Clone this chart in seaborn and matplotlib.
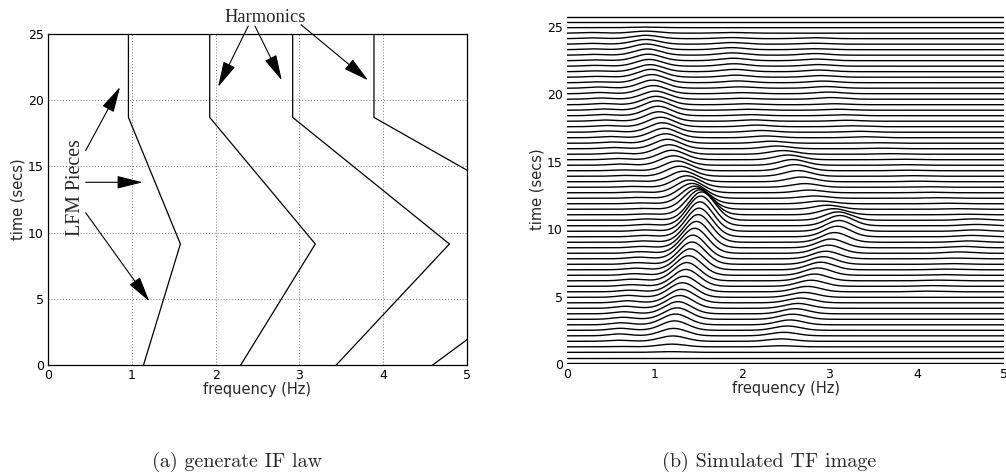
import numpy as np
import matplotlib
matplotlib.use("Agg")
import matplotlib.pyplot as plt
import seaborn as sns

sns.set_theme(style="white")
plt.rcParams['font.family'] = ['DejaVu Sans']

# ---- (a) IF law: breakpoints of each harmonic (time in s, freq in Hz)
if_times = [0, 9.14, 18.7, 25]
h1_freq = [1.14, 1.58, 0.96, 0.96]
h2_freq = [2.30, 3.19, 1.93, 1.93]
h3_freq = [3.44, 4.79, 2.92, 2.92]
h4_freq = [4.59, 6.55, 3.89, 3.89]
harmonics = [h1_freq, h2_freq, h3_freq, h4_freq]

# ---- (b) simulated TF image: one trace per time slice, ridge read per trace
main_freq = [1.18, 1.18, 1.18, 1.20, 1.21, 1.22, 1.23, 1.24, 1.26, 1.27,
             1.29, 1.31, 1.32, 1.34, 1.36, 1.37, 1.39, 1.41, 1.43, 1.44,
             1.46, 1.48, 1.50, 1.51, 1.52, 1.53, 1.54, 1.52, 1.49, 1.46,
             1.43, 1.40, 1.37, 1.33, 1.29, 1.26, 1.22, 1.20, 1.17, 1.15,
             1.13, 1.11, 1.09, 1.07, 1.05, 1.04, 1.03, 1.02, 1.01, 0.99,
             0.98, 0.97, 0.96, 0.95, 0.94, 0.93, 0.92, 0.91, 0.90, 0.90,
             0.90, 0.90, 0.90, 0.90]
main_amp = [0.00, 0.00, 0.05, 0.20, 0.40, 0.55, 0.70, 0.80, 0.85, 0.90,
            0.95, 1.00, 1.08, 1.15, 1.25, 1.35, 1.45, 1.55, 1.65, 1.75,
            1.85, 1.95, 2.05, 2.12, 2.18, 2.20, 2.10, 1.85, 1.55, 1.30,
            1.10, 0.95, 0.85, 0.78, 0.74, 0.72, 0.70, 0.70, 0.70, 0.70,
            0.70, 0.70, 0.70, 0.70, 0.70, 0.70, 0.70, 0.62, 0.60, 0.60,
            0.60, 0.60, 0.58, 0.52, 0.50, 0.48, 0.46, 0.42, 0.35, 0.25,
            0.15, 0.04, 0.00, 0.00]
harm_freq = [2.45, 2.45, 2.45, 2.45, 2.45, 2.48, 2.52, 2.55, 2.58, 2.61,
             2.64, 2.67, 2.71, 2.75, 2.79, 2.83, 2.87, 2.90, 2.93, 2.96,
             2.99, 3.02, 3.06, 3.09, 3.11, 3.12, 3.10, 3.05, 2.98, 2.90,
             2.83, 2.77, 2.72, 2.68, 2.64, 2.61, 2.58, 2.53, 2.47, 2.40,
             2.33, 2.27, 2.22, 2.17, 2.13, 2.10, 2.07, 2.04, 2.01, 1.99,
             1.97, 1.95, 1.93, 1.92, 1.91, 1.90, 1.89, 1.88, 1.88, 1.88,
             1.88, 1.88, 1.88, 1.88]
harm_amp = [0.00, 0.00, 0.00, 0.08, 0.18, 0.26, 0.32, 0.36, 0.38, 0.38,
            0.36, 0.35, 0.36, 0.40, 0.45, 0.50, 0.54, 0.56, 0.56, 0.56,
            0.60, 0.65, 0.72, 0.78, 0.80, 0.76, 0.62, 0.45, 0.30, 0.20,
            0.17, 0.20, 0.27, 0.35, 0.42, 0.45, 0.42, 0.35, 0.27, 0.20,
            0.15, 0.13, 0.13, 0.12, 0.10, 0.08, 0.07, 0.07, 0.07, 0.08,
            0.10, 0.13, 0.15, 0.17, 0.18, 0.18, 0.17, 0.15, 0.12, 0.08,
            0.05, 0.00, 0.00, 0.00]
third_freq = [3.70, 3.70, 3.70, 3.70, 3.70, 3.70, 3.70, 3.70, 3.70, 3.70,
              3.96, 4.00, 4.06, 4.12, 4.18, 4.24, 4.30, 4.35, 4.40, 4.44,
              4.48, 4.53, 4.59, 4.63, 4.66, 4.68, 4.65, 4.57, 4.47, 4.35,
              4.25, 4.15, 4.08, 4.02, 3.96, 3.90, 3.87, 3.80, 3.70, 3.60,
              3.50, 3.40, 3.33, 3.26, 3.20, 3.15, 3.10, 3.06, 3.02, 2.99,
              2.96, 2.93, 2.90, 2.88, 2.87, 2.85, 2.84, 2.82, 2.82, 2.82,
              2.82, 2.82, 2.82, 2.82]
third_amp = [0.00, 0.00, 0.00, 0.00, 0.00, 0.00, 0.00, 0.00, 0.00, 0.00,
             0.00, 0.00, 0.00, 0.05, 0.05, 0.05, 0.05, 0.05, 0.05, 0.05,
             0.10, 0.10, 0.10, 0.10, 0.10, 0.10, 0.10, 0.04, 0.04, 0.04,
             0.04, 0.04, 0.04, 0.04, 0.04, 0.04, 0.04, 0.04, 0.04, 0.04,
             0.04, 0.07, 0.07, 0.07, 0.07, 0.07, 0.07, 0.07, 0.12, 0.12,
             0.12, 0.12, 0.12, 0.12, 0.12, 0.12, 0.12, 0.07, 0.07, 0.07,
             0.00, 0.00, 0.00, 0.00]
side_amp = [0.00, 0.00, 0.00, 0.03, 0.08, 0.14, 0.15, 0.15, 0.15, 0.15,
            0.15, 0.15, 0.14, 0.12, 0.12, 0.12, 0.12, 0.12, 0.12, 0.12,
            0.12, 0.10, 0.10, 0.10, 0.10, 0.10, 0.10, 0.06, 0.06, 0.06,
            0.06, 0.06, 0.06, 0.06, 0.06, 0.06, 0.09, 0.09, 0.09, 0.09,
            0.09, 0.09, 0.09, 0.09, 0.09, 0.09, 0.09, 0.09, 0.09, 0.09,
            0.09, 0.06, 0.06, 0.06, 0.06, 0.06, 0.06, 0.06, 0.06, 0.06,
            0.05, 0.00, 0.00, 0.00]

trace_base = np.linspace(0.07, 25.75, len(main_freq))
freq_axis = np.linspace(0, 5, 400)


def bump(center, amp, width):
    return amp * np.exp(-0.5 * ((freq_axis - center) / width) ** 2)


fig = plt.figure(figsize=(10.06, 4.76), dpi=100)

# ---------------- left panel
ax1 = fig.add_axes([0.0477, 0.2332, 0.4165, 0.6954])
for hf in harmonics:
    sns.lineplot(x=hf, y=if_times, ax=ax1, color="black", linewidth=0.9,
                 sort=False, estimator=None)
ax1.set_xlim(0, 5)
ax1.set_ylim(0, 25)
ax1.set_xticks(range(6))
ax1.set_yticks(range(0, 26, 5))
ax1.grid(True, color="#777777", linestyle=(0, (1, 2)), linewidth=0.7)
for s in ax1.spines.values():
    s.set_visible(True)
    s.set_color("black")
    s.set_linewidth(0.9)
ax1.tick_params(direction="in", length=3, labelsize=9, pad=3, colors="black")
ax1.set_xlabel("frequency (Hz)", fontsize=10.5, labelpad=0)
ax1.set_ylabel("time (secs)", fontsize=10.5, labelpad=2)

arrow_kw = dict(arrowstyle="-|>,head_length=0.8,head_width=0.2",
                color="black", lw=0.8, mutation_scale=20,
                shrinkA=0, shrinkB=0)
ax1.annotate("Harmonics", xy=(2.59, 26.25), ha="center", va="center",
             fontsize=13.3, family="Liberation Serif", annotation_clip=False)
for tail, head in [((2.39, 25.6), (2.03, 21.0)), ((2.47, 25.6), (2.79, 21.5)),
                   ((3.02, 25.7), (3.82, 21.5))]:
    ax1.annotate("", xy=head, xytext=tail, arrowprops=arrow_kw,
                 annotation_clip=False)
ax1.text(0.33, 13.4, "LFM Pieces", rotation=90, ha="center", va="center",
         fontsize=14.3, family="Liberation Serif")
for tail, head in [((0.45, 16.2), (0.86, 21.0)), ((0.45, 13.8), (1.13, 13.8)),
                   ((0.45, 11.5), (1.21, 4.8))]:
    ax1.annotate("", xy=head, xytext=tail, arrowprops=arrow_kw)

# ---------------- right panel
ax2 = fig.add_axes([0.5636, 0.2347, 0.4347, 0.7374])
for k, base in enumerate(trace_base):
    trace = (base
             + bump(main_freq[k], main_amp[k], 0.15)
             + bump(harm_freq[k], harm_amp[k], 0.15)
             + bump(third_freq[k], third_amp[k], 0.15)
             + bump(main_freq[k] - 0.62, side_amp[k], 0.12))
    sns.lineplot(x=freq_axis, y=trace, ax=ax2, color="black", linewidth=1.0,
                 estimator=None)
ax2.set_xlim(0, 5)
ax2.set_ylim(0, 26)
ax2.set_xticks(range(6))
ax2.set_yticks(range(0, 26, 5))
for s in ax2.spines.values():
    s.set_visible(False)
ax2.tick_params(length=0, labelsize=9, pad=3, colors="black")
ax2.set_xlabel("frequency (Hz)", fontsize=10.5, labelpad=0)
ax2.set_ylabel("time (secs)", fontsize=10.5, labelpad=2)

# ---------------- captions
fig.text(0.236, 0.029, "(a) generate IF law", ha="center", va="center",
         fontsize=14.5, family="cmr10")
fig.text(0.765, 0.029, "(b) Simulated TF image", ha="center", va="center",
         fontsize=14.5, family="cmr10")

fig.savefig("out.png", dpi=100)
